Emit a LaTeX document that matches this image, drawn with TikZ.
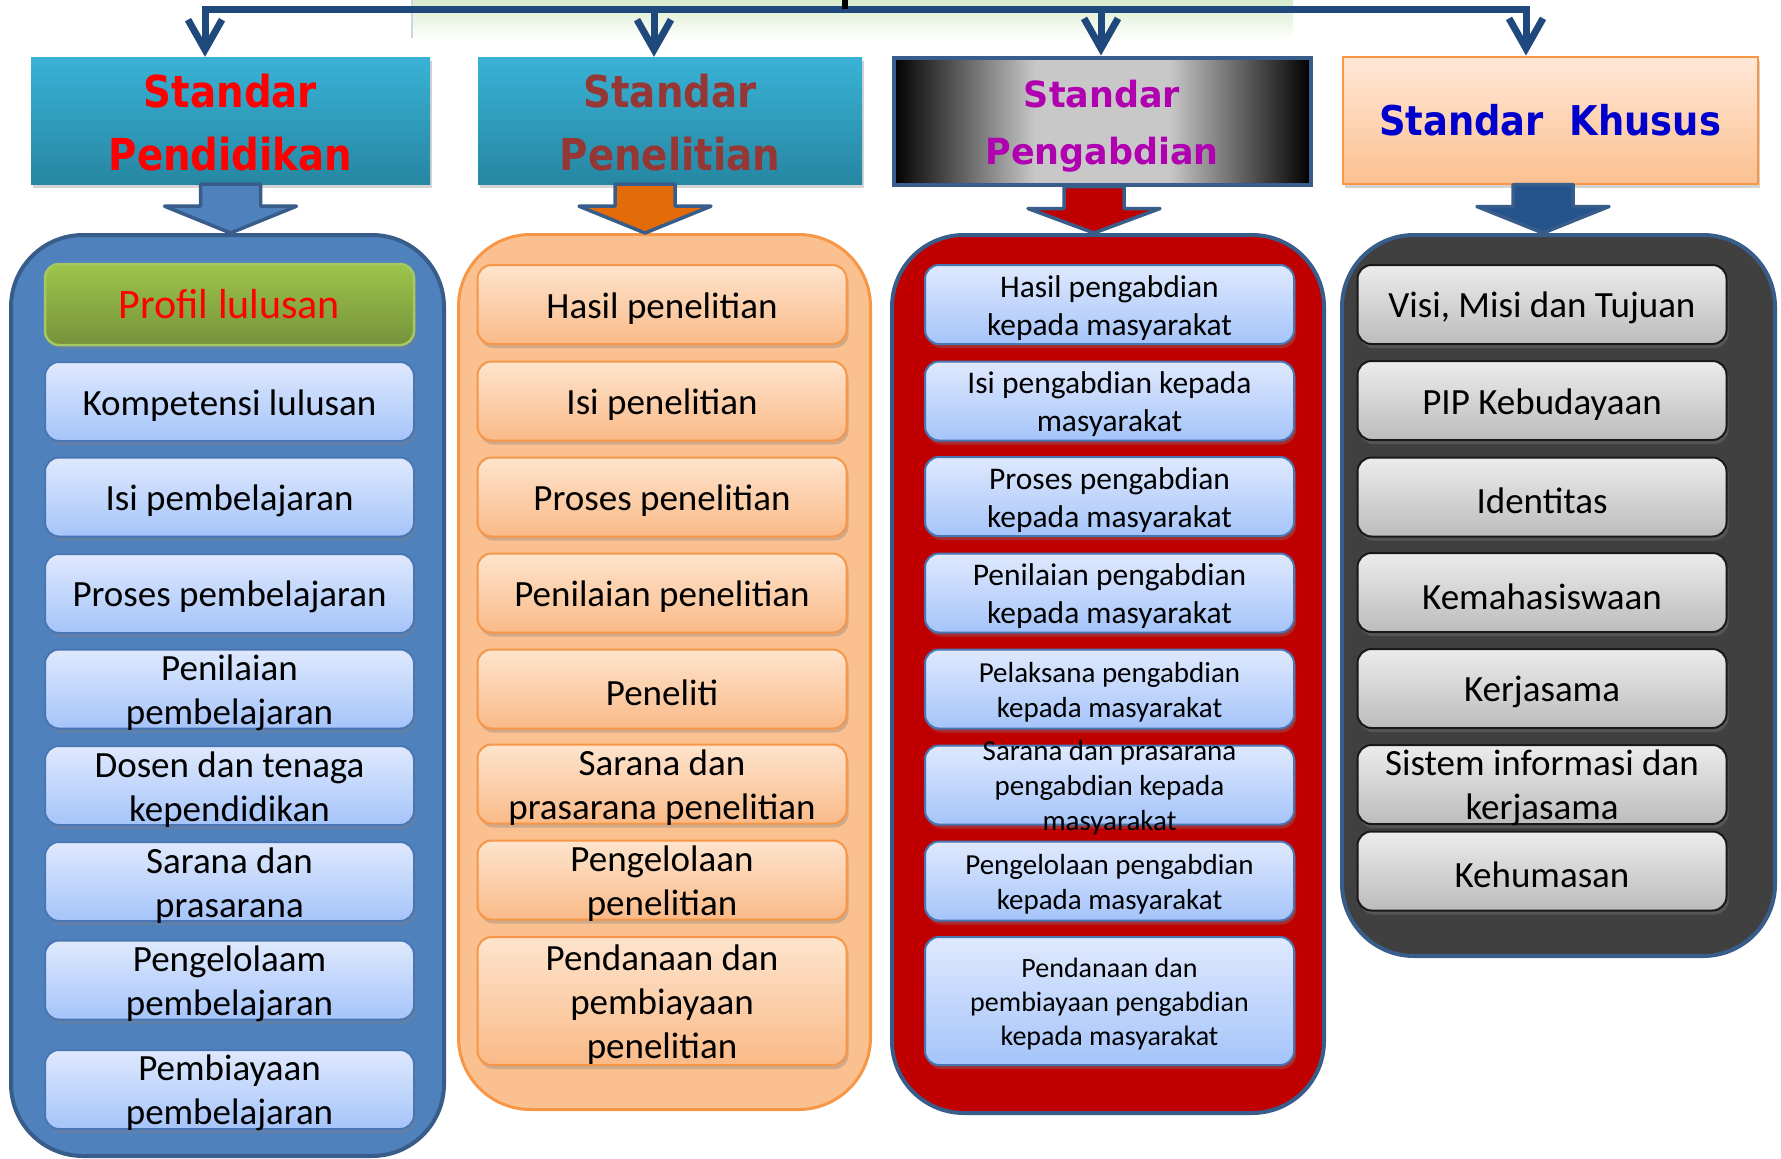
\documentclass[tikz,border=0pt]{standalone}
\usepackage{fontspec}
\setmainfont{Carlito}
\newfontfamily\hdfont{DejaVu Sans}[FakeStretch=0.88]
\newfontfamily\hdfontm{DejaVu Sans}[FakeStretch=0.97]
\newfontfamily\hdfontk{DejaVu Sans}[FakeStretch=0.90]
\usetikzlibrary{arrows.meta,calc,shadows}
\newcommand\lift{\rule{0pt}{0.9em}}

\definecolor{busblue}{RGB}{31,73,125}
\definecolor{edgeblue}{RGB}{56,93,138}
\definecolor{tealtop}{RGB}{57,178,214}
\definecolor{tealbot}{RGB}{38,135,162}
\definecolor{silvermid}{RGB}{200,200,200}
\definecolor{peachtop}{RGB}{255,232,216}
\definecolor{peachbot}{RGB}{252,192,144}
\definecolor{orangeedge}{RGB}{247,150,70}
\definecolor{pendred}{RGB}{255,0,0}
\definecolor{penred}{RGB}{149,55,53}
\definecolor{pengmag}{RGB}{176,0,176}
\definecolor{khusblue}{RGB}{0,0,204}
\definecolor{c1fill}{RGB}{79,129,189}
\definecolor{c2fill}{RGB}{250,192,144}
\definecolor{c3fill}{RGB}{192,0,0}
\definecolor{c4fill}{RGB}{64,64,64}
\definecolor{a2fill}{RGB}{227,108,9}
\definecolor{a4fill}{RGB}{37,84,140}
\definecolor{bluetop}{RGB}{223,233,253}
\definecolor{bluebot}{RGB}{165,196,250}
\definecolor{blueedge}{RGB}{72,118,180}
\definecolor{ortop}{RGB}{253,228,205}
\definecolor{orbot}{RGB}{250,186,136}
\definecolor{greytop}{RGB}{236,236,236}
\definecolor{greybot}{RGB}{188,188,188}
\definecolor{greentop}{RGB}{157,197,74}
\definecolor{greenbot}{RGB}{118,146,60}
\definecolor{greenedge}{RGB}{165,200,95}
\definecolor{bggreen}{RGB}{216,236,204}
\definecolor{bgedge}{RGB}{205,214,228}
\pgfdeclarehorizontalshading{silver}{100bp}{color(0bp)=(black); color(25bp)=(black);
  color(42bp)=(silvermid); color(58bp)=(silvermid); color(75bp)=(black); color(100bp)=(black)}

\begin{document}
\begin{tikzpicture}[x=1pt,y=-1pt,
  hd/.style={minimum height=127pt,align=center,inner sep=0pt},
  shd/.style={drop shadow={opacity=.35,shadow xshift=2pt,shadow yshift=-4pt}},
  cont/.style={rounded corners=72pt,line width=4pt,draw=edgeblue},
  stdbox/.style={shd,draw=blueedge,line width=2pt,rounded corners=14pt,top color=bluetop,
    bottom color=bluebot,minimum width=369pt,minimum height=79pt,inner xsep=0pt,
    inner ysep=-20pt,align=center,font=\fontsize{37}{44}\selectfont},
  obox/.style={stdbox,draw=orangeedge,top color=ortop,bottom color=orbot},
  gbox/.style={stdbox,draw=black!90,top color=greytop,bottom color=greybot},
  barrow/.style={draw=edgeblue,line width=3.5pt,line join=round},
  busline/.style={draw=busblue,line width=7pt},
  busarrow/.style={busline,-{Straight Barb[length=30pt,width=34pt]}}]
\useasboundingbox (0,0) rectangle (1781,1159);
\shade[top color=bggreen,bottom color=white] (412,0) rectangle (1293,40);
\draw[bgedge,line width=2pt] (412,0) -- (412,38);

% headers
\node[hd,shd,minimum width=399pt,top color=tealtop,bottom color=tealbot,text=pendred,
  font=\hdfont\bfseries\fontsize{44}{63}\selectfont] (h1) at (230.5,120.5)
  {\rule{0pt}{38pt}Standar\\Pendidikan};
\node[hd,shd,minimum width=384pt,top color=tealtop,bottom color=tealbot,text=penred,
  font=\hdfont\bfseries\fontsize{44}{63}\selectfont] (h2) at (670,120.5)
  {\rule{0pt}{38pt}Standar\\Penelitian};
\node[hd,shade,shading=silver,minimum width=417pt,draw=edgeblue,line width=4pt,text=pengmag,
  font=\hdfontm\bfseries\fontsize{36}{57}\selectfont] (h3) at (1102,121)
  {\rule{0pt}{38pt}Standar\\Pengabdian};
\node[hd,shd,minimum width=415pt,draw=orangeedge,line width=2pt,top color=peachtop,
  bottom color=peachbot,text=khusblue,
  font=\hdfontk\bfseries\fontsize{41}{50}\selectfont] (h4) at (1550,120) {Standar\ \ Khusus};

% bus
\coordinate (b1) at (205,9);
\coordinate (b2) at (654,9);
\coordinate (b3) at (1101,9);
\coordinate (b4) at (1526,9);
\coordinate (up) at (845,0);
\coordinate (bm) at (845,9);
\draw[busline,line cap=rect] (b1) -- (b4);
\draw[line width=6pt] (up) -- (bm);
\foreach \b/\hn in {b1/h1,b2/h2,b3/h3,b4/h4}
  \draw[busarrow] (\b) -- (\b |- \hn.north);

% columns
\node[cont,fill=c1fill,minimum width=433pt,minimum height=921pt] (c1) at (227.5,695.5) {};
\node[cont,fill=c2fill,draw=orangeedge,line width=3pt,minimum width=412pt,
  minimum height=875pt] (c2) at (664.5,672) {};
\node[cont,fill=c3fill,minimum width=432pt,minimum height=878pt] (c3) at (1108,674) {};
\node[cont,fill=c4fill,minimum width=433pt,minimum height=721pt] (c4) at (1558.5,595.5) {};

\foreach \hn/\cn/\dx/\col in {h1/c1/0/c1fill,h2/c2/-25/a2fill,h3/c3/-8/c3fill,h4/c4/-7/a4fill}{
  \coordinate (t) at ($(\hn.south)+(\dx,0)$);
  \draw[barrow,fill=\col] ($(t)+(-30,0)$) -- ++(0,22) -- ++(-36,0) -- (t |- \cn.north)
    -- ($(t)+(66,22)$) -- ++(-36,0) -- ($(t)+(30,0)$) -- cycle;
}

% Standar Pendidikan
\node[stdbox,draw=greenedge,line width=2.5pt,top color=greentop,bottom color=greenbot,
  minimum height=81pt,text=pendred,font=\fontsize{42}{50}\selectfont] (p1) at (229.5,304.5)
  {Profil lulusan};
\foreach \yy/\txt [count=\i from 2] in {401.5/Kompetensi lulusan,497/Isi pembelajaran,
  593.5/Proses pembelajaran,689/{Penilaian\\pembelajaran},785.5/{Dosen dan tenaga\\kependidikan},
  881.5/{Sarana dan\\prasarana},980/{Pengelolaam\\pembelajaran},1089.5/{Pembiayaan\\pembelajaran}}
  \node[stdbox] (p\i) at (229.5,\yy) {\lift\txt};

% Standar Penelitian
\foreach \yy/\txt [count=\i] in {304.5/Hasil penelitian,401/Isi penelitian,497/Proses penelitian,
  593/Penilaian penelitian,689/Peneliti,784/{Sarana dan\\prasarana penelitian},
  880/{Pengelolaan\\penelitian}}
  \node[obox] (q\i) at (662,\yy) {\lift\txt};
\node[obox,minimum height=128pt] (q8) at (662,1001) {\lift Pendanaan dan\\pembiayaan\\penelitian};

% Standar Pengabdian
\foreach \yy/\fs/\ls/\txt [count=\i] in {304.5/31.5/38/{Hasil pengabdian\\kepada masyarakat},
  401/31.5/38/{Isi pengabdian kepada\\masyarakat},496.5/31.5/38/{Proses pengabdian\\kepada masyarakat},
  593/31.5/38/{Penilaian pengabdian\\kepada masyarakat},689/29/35/{Pelaksana pengabdian\\kepada masyarakat},
  785/29/35/{Sarana dan prasarana\\pengabdian kepada\\masyarakat},
  881/29/35/{Pengelolaan pengabdian\\kepada masyarakat}}
  \node[stdbox,font=\fontsize{\fs}{\ls}\selectfont] (r\i) at (1109.5,\yy) {\lift\txt};
\node[stdbox,minimum height=128pt,font=\fontsize{28}{34}\selectfont] (r8) at (1109.5,1001)
  {\lift Pendanaan dan\\pembiayaan pengabdian\\kepada masyarakat};

% Standar Khusus
\foreach \yy/\txt [count=\i] in {304.5/{Visi, Misi dan Tujuan},400.5/PIP Kebudayaan,497/Identitas,
  592.5/Kemahasiswaan,688.5/Kerjasama,784.5/{Sistem informasi dan\\kerjasama},871/Kehumasan}
  \node[gbox] (s\i) at (1542,\yy) {\lift\txt};
\end{tikzpicture}
\end{document}
